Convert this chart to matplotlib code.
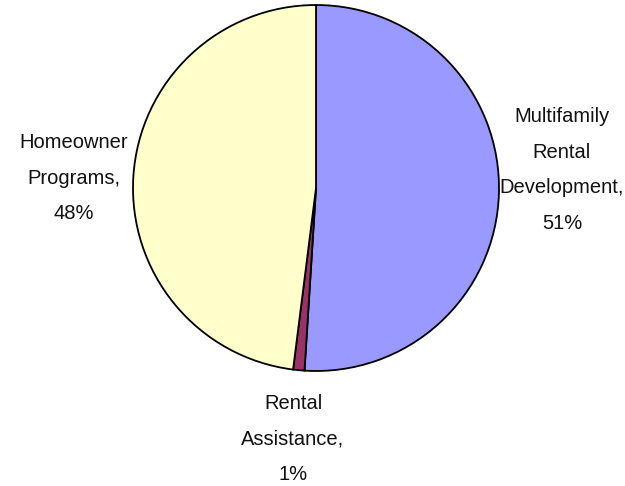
import matplotlib.pyplot as plt

labels = ['Multifamily\nRental\nDevelopment,\n51%', 'Rental\nAssistance,\n1%', 'Homeowner\nPrograms,\n48%']
shares = [51, 1, 48]
colors = ['#9999FF', '#993366', '#FFFFCC']

plt.rcParams['font.family'] = ['Liberation Sans Narrow', 'Liberation Sans', 'DejaVu Sans']

W, H = 625, 486
fig = plt.figure(figsize=(W / 100, H / 100), dpi=100)

# pie centre and radius in pixels
cx, cy, r = 316, 188, 183
ax = fig.add_axes([(cx - r) / W, (H - cy - r) / H, 2 * r / W, 2 * r / H])
ax.pie(shares, colors=colors, startangle=90, counterclock=False,
       wedgeprops=dict(edgecolor='black', linewidth=1.3))
ax.set_aspect('equal')
ax.set_xlim(-1, 1)
ax.set_ylim(-1, 1)

# label centres in pixels
label_pos = [(562, 170), (293, 439), (74, 178)]
for text, (x, y) in zip(labels, label_pos):
    fig.text(x / W, 1 - y / H, text, ha='center', va='center',
             fontsize=14.5, linespacing=2.1, color='#111111')

fig.savefig('out.png', dpi=100)
